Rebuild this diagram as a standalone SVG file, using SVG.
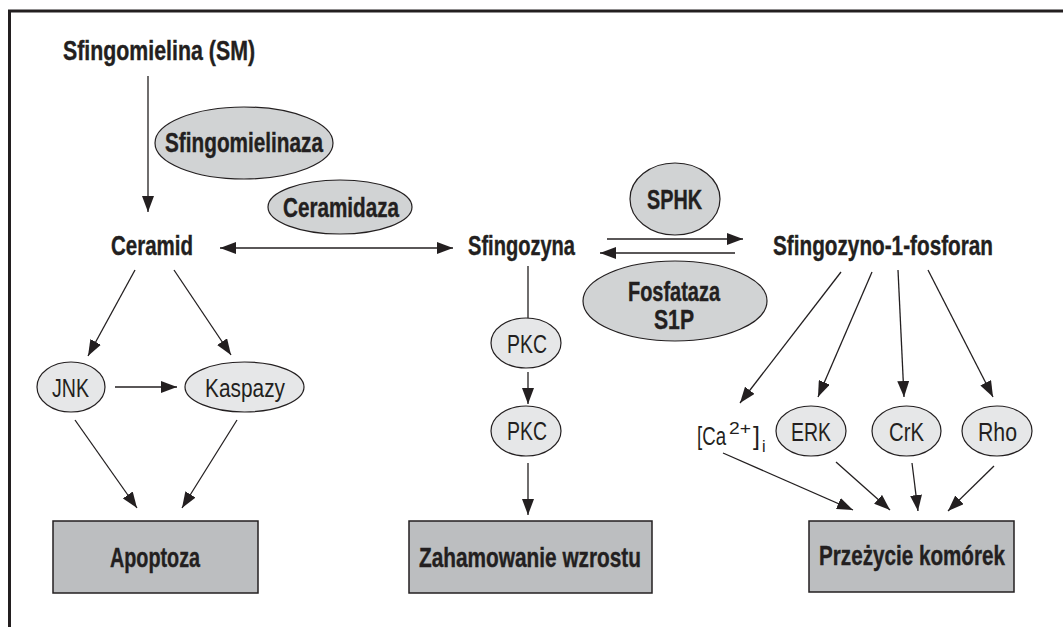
<svg xmlns="http://www.w3.org/2000/svg" width="1063" height="627" viewBox="0 0 1063 627">
  <style>
    .b { font-family: "Liberation Sans", Arial, sans-serif; font-weight: bold; font-size: 28px; fill: #231f20; stroke: #231f20; stroke-width: 0.4; }
    .r { font-family: "Liberation Sans", Arial, sans-serif; font-weight: normal; font-size: 25px; fill: #231f20; }
    .s { font-family: "Liberation Sans", Arial, sans-serif; font-weight: normal; font-size: 16px; fill: #231f20; }
    .enz { fill: #d1d3d4; stroke: #231f20; stroke-width: 1.2; }
    .node { fill: #e6e7e8; stroke: #231f20; stroke-width: 1.2; }
    .box { fill: #bcbec0; stroke: #231f20; stroke-width: 1.5; }
    .edge { stroke: #231f20; stroke-width: 1.3; fill: none; }
    .arr { marker-end: url(#head); }
  </style>
  <defs>
    <marker id="head" markerUnits="userSpaceOnUse" markerWidth="16" markerHeight="12" refX="16" refY="6" orient="auto-start-reverse" viewBox="0 0 16 12">
      <path d="M0,0 L16,6 L0,12 z" fill="#231f20"/>
    </marker>
  </defs>

  <rect width="1063" height="627" fill="#ffffff"/>

  <!-- frame -->
  <g id="frame" stroke="#231f20" stroke-width="3" fill="none">
    <line x1="8" y1="11" x2="1063" y2="11"/>
    <line x1="9.5" y1="10" x2="9.5" y2="627"/>
  </g>

  <!-- connectors -->
  <g id="connectors" class="edge">
    <line class="arr" x1="148" y1="76" x2="148" y2="212"/>
    <line x1="220" y1="248" x2="453" y2="248" marker-start="url(#head)" marker-end="url(#head)"/>
    <line class="arr" x1="607" y1="239" x2="743" y2="239"/>
    <line class="arr" x1="735" y1="253" x2="600" y2="253"/>
    <line x1="528" y1="266" x2="528" y2="318"/>
    <line class="arr" x1="528" y1="372" x2="528" y2="404"/>
    <line class="arr" x1="528" y1="463" x2="528" y2="515"/>
    <line class="arr" x1="135" y1="270" x2="88" y2="356"/>
    <line class="arr" x1="174" y1="270" x2="231" y2="355"/>
    <line class="arr" x1="115" y1="387" x2="177" y2="387"/>
    <line class="arr" x1="75" y1="420" x2="137" y2="508"/>
    <line class="arr" x1="237" y1="420" x2="182" y2="508"/>
    <line class="arr" x1="841" y1="272" x2="740" y2="403"/>
    <line class="arr" x1="872" y1="272" x2="818" y2="397"/>
    <line class="arr" x1="898" y1="270" x2="904" y2="397"/>
    <line class="arr" x1="928" y1="270" x2="993" y2="397"/>
    <line class="arr" x1="723" y1="453" x2="853" y2="510"/>
    <line class="arr" x1="836" y1="462" x2="890" y2="510"/>
    <line class="arr" x1="912" y1="463" x2="918" y2="511"/>
    <line class="arr" x1="994" y1="466" x2="948" y2="511"/>
  </g>

  <g id="sfingomielina">
    <text class="b" x="63" y="60" textLength="192" lengthAdjust="spacingAndGlyphs">Sfingomielina (SM)</text>
  </g>
  <g id="sfingomielinaza">
    <ellipse class="enz" cx="244" cy="143" rx="89" ry="36"/>
    <text class="b" x="165" y="152" textLength="158" lengthAdjust="spacingAndGlyphs">Sfingomielinaza</text>
  </g>
  <g id="ceramidaza">
    <ellipse class="enz" cx="340" cy="207" rx="72" ry="27"/>
    <text class="b" x="283" y="217" textLength="116" lengthAdjust="spacingAndGlyphs">Ceramidaza</text>
  </g>
  <g id="ceramid">
    <text class="b" x="111" y="255" textLength="82" lengthAdjust="spacingAndGlyphs">Ceramid</text>
  </g>
  <g id="sfingozyna">
    <text class="b" x="468" y="255" textLength="107" lengthAdjust="spacingAndGlyphs">Sfingozyna</text>
  </g>
  <g id="sphk">
    <ellipse class="enz" cx="675" cy="199" rx="45" ry="36"/>
    <text class="b" x="647" y="209" textLength="55" lengthAdjust="spacingAndGlyphs">SPHK</text>
  </g>
  <g id="fosfataza">
    <ellipse class="enz" cx="675" cy="301" rx="92" ry="40"/>
    <text class="b" x="628" y="301" textLength="92" lengthAdjust="spacingAndGlyphs">Fosfataza</text>
    <text class="b" x="654" y="329" textLength="40" lengthAdjust="spacingAndGlyphs">S1P</text>
  </g>
  <g id="s1p">
    <text class="b" x="773" y="255" textLength="220" lengthAdjust="spacingAndGlyphs">Sfingozyno-1-fosforan</text>
  </g>

  <g id="jnk">
    <ellipse class="node" cx="71" cy="387" rx="34" ry="25"/>
    <text class="r" x="52" y="397" textLength="37" lengthAdjust="spacingAndGlyphs">JNK</text>
  </g>
  <g id="kaspazy">
    <ellipse class="node" cx="244.5" cy="387" rx="59.5" ry="25"/>
    <text class="r" x="205" y="397" textLength="80" lengthAdjust="spacingAndGlyphs">Kaspazy</text>
  </g>
  <g id="pkc1">
    <ellipse class="node" cx="526" cy="343" rx="35" ry="25"/>
    <text class="r" x="507" y="353" textLength="40" lengthAdjust="spacingAndGlyphs">PKC</text>
  </g>
  <g id="pkc2">
    <ellipse class="node" cx="526" cy="431" rx="35" ry="25"/>
    <text class="r" x="507" y="440" textLength="40" lengthAdjust="spacingAndGlyphs">PKC</text>
  </g>
  <g id="calcium">
    <text class="r" x="697" y="445"><tspan textLength="29" lengthAdjust="spacingAndGlyphs">[Ca</tspan><tspan x="729" y="434" font-size="16" textLength="22" lengthAdjust="spacingAndGlyphs">2+</tspan><tspan x="753" y="445">]</tspan><tspan x="762" y="452" font-size="16">i</tspan></text>
  </g>
  <g id="erk">
    <ellipse class="node" cx="811" cy="431" rx="35" ry="25"/>
    <text class="r" x="791" y="441" textLength="40" lengthAdjust="spacingAndGlyphs">ERK</text>
  </g>
  <g id="crk">
    <ellipse class="node" cx="906.5" cy="431" rx="34.5" ry="25"/>
    <text class="r" x="889" y="441" textLength="35" lengthAdjust="spacingAndGlyphs">CrK</text>
  </g>
  <g id="rho">
    <ellipse class="node" cx="997" cy="431" rx="35" ry="25"/>
    <text class="r" x="978" y="441" textLength="39" lengthAdjust="spacingAndGlyphs">Rho</text>
  </g>

  <g id="apoptoza">
    <rect class="box" x="53" y="521" width="205" height="72"/>
    <text class="b" x="110" y="567" textLength="90" lengthAdjust="spacingAndGlyphs">Apoptoza</text>
  </g>
  <g id="zahamowanie">
    <rect class="box" x="409" y="521" width="243" height="72"/>
    <text class="b" x="419" y="567" textLength="222" lengthAdjust="spacingAndGlyphs">Zahamowanie wzrostu</text>
  </g>
  <g id="przezycie">
    <rect class="box" x="809" y="521" width="205" height="71"/>
    <text class="b" x="819" y="565" textLength="186" lengthAdjust="spacingAndGlyphs">Przeżycie komórek</text>
  </g>
</svg>
